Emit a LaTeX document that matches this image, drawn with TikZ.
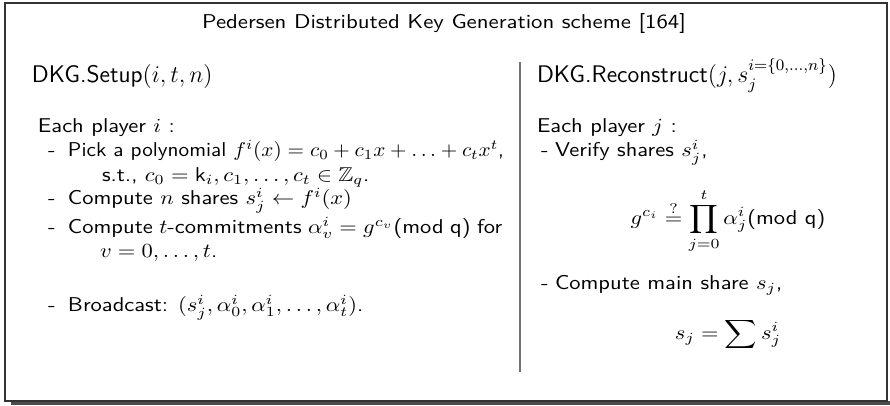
\documentclass[tikz,border=0pt]{standalone}
\usepackage{amsmath,amssymb}
\usepackage{graphicx}
\usepackage{fontspec}
% text in this scheme is set slightly wide
\newcommand{\wide}[1]{\scalebox{1.125}[1]{#1}}
\newcommand{\semiwide}[1]{\scalebox{1.06}[1]{#1}}
\begin{document}
\begin{tikzpicture}[x=0.5pt,y=-0.5pt,
  font=\sffamily\fontsize{10}{12}\selectfont,
  txt/.style={anchor=base west, inner sep=0pt, outer sep=0pt},
  headline/.style={txt, font=\sffamily\fontsize{12}{14}\selectfont},
  formula/.style={inner sep=0pt, outer sep=0pt},
  frameline/.style={draw=black!80, line width=0.7pt},
  shadowbar/.style={fill=black!70},
  divider/.style={draw=black!55, line width=1pt}]
\useasboundingbox (0,0) rectangle (890,406);
% outer frame with its drop shadow
\fill[shadowbar] (11,401) rectangle (890,405);
\draw[frameline] (5,3) rectangle (887,401);
% title
\node[anchor=base, inner sep=0pt] (title) at (444,29) {\scalebox{1.14}[1]{Pedersen Distributed Key Generation scheme [164]}};
% column divider
\coordinate (divtop) at (520,62);
\coordinate (divbot) at (520,372);
\draw[divider] (divtop) -- (divbot);

% left column: setup
\node[headline] (setup) at (32,83) {DKG.Setup$(i, t, n)$};
\node[txt] (eachi) at (38,133) {\wide{Each player $i$ :}};
\node[txt] (da) at (48,157) {\wide{-}};
\node[txt] (pick) at (68,157) {\semiwide{Pick a polynomial $f^i(x) = c_0 + c_1x + \ldots + c_tx^t$,}};
\node[txt] (st) at (102,182) {\wide{s.t., $c_0 = \mathsf{k}_i, c_1, \ldots, c_t \in \mathbb{Z}_q$.}};
\node[txt] (db) at (48,205) {\wide{-}};
\node[txt] (shares) at (68,205) {\wide{Compute $n$ shares $s^i_j \leftarrow f^i(x)$}};
\node[txt] (dc) at (48,234) {\wide{-}};
\node[txt] (commit) at (68,234) {\wide{\makebox[193pt][s]{Compute $t$-commitments $\alpha^i_v = g^{c_v}$(mod q) for}}};
\node[txt] (vrange) at (100,258) {\wide{$v = 0, \ldots, t$.}};
\node[txt] (dd) at (48,312) {\wide{-}};
\node[txt] (bcast) at (68,312) {\wide{Broadcast: $(s^i_j, \alpha^i_0, \alpha^i_1, \ldots, \alpha^i_t)$.}};

% right column: reconstruction
\node[headline] (recon) at (537,83) {DKG.Reconstruct$(j, s_j^{i=\{0,\ldots,n\}})$};
\node[txt] (eachj) at (537,133) {\wide{Each player $j$ :}};
\node[txt] (de) at (541,157) {\wide{-}};
\node[txt] (verify) at (555,157) {\wide{Verify shares $s^i_j$,}};
\node[formula] (check) at (728,221) {\wide{$\displaystyle g^{c_i} \overset{?}{=} \prod_{j=0}^{t} \alpha^i_j$(mod q)}};
\node[txt] (df) at (541,290) {\wide{-}};
\node[txt] (mainshare) at (555,290) {\wide{Compute main share $s_j$,}};
\node[formula, anchor=base] (sum) at (728,340) {\wide{$\displaystyle s_j = \sum s^i_j$}};
\end{tikzpicture}
\end{document}
